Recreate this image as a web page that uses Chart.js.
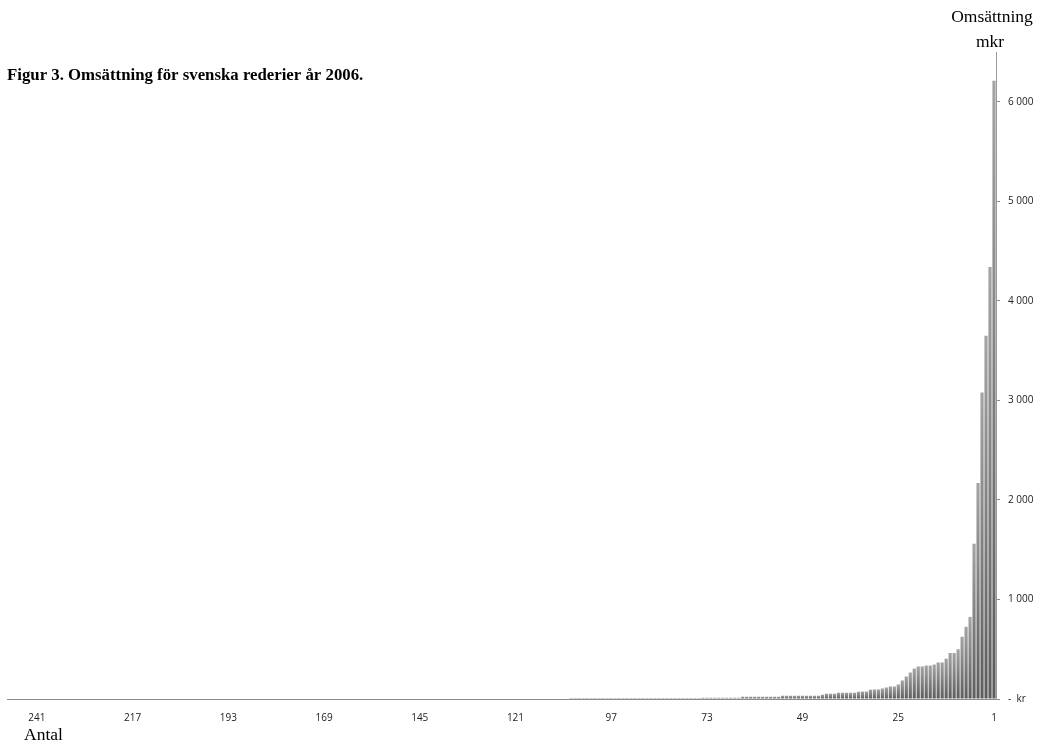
<!DOCTYPE html>
<html>
<head>
<meta charset="utf-8">
<script src="https://cdn.jsdelivr.net/npm/chart.js@4.4.1/dist/chart.umd.min.js"></script>
<style>
  html, body { margin: 0; padding: 0; background: #fff; }
  #wrap { position: relative; width: 1037px; height: 742px; }
</style>
</head>
<body>
<div id="wrap"><canvas id="chart"></canvas></div>
<script>
// Omsättning (mkr) per rederi, rangordnat från störst (1) till minst
const revenue = [
  6210, 4340, 3650, 3080, 2170, 1560, 825, 725, 625, 500,
  462, 462, 405, 367, 367, 346, 336, 336, 327, 327,
  306, 266, 226, 186, 146, 126, 126, 116, 106, 96,
  96, 94, 75, 75, 73, 63, 63, 63, 63, 63,
  53, 53, 53, 43, 33, 33, 33, 33, 33, 33,
  33, 33, 33, 33, 23, 23, 23, 23, 23, 23,
  23, 23, 23, 23, 13, 13, 13, 13, 13, 13,
  13, 13, 13, 13, 9, 9, 9, 9, 9, 9,
  9, 9, 9, 9, 9, 9, 9, 9, 9, 9,
  9, 9, 9, 9, 9, 9, 9, 9, 9, 9,
  9, 9, 9, 9, 9, 9, 9, 0, 0, 0,
  0, 0, 0, 0, 0, 0, 0, 0, 0, 0,
  0, 0, 0, 0, 0, 0, 0, 0, 0, 0,
  0, 0, 0, 0, 0, 0, 0, 0, 0, 0,
  0, 0, 0, 0, 0, 0, 0, 0, 0, 0,
  0, 0, 0, 0, 0, 0, 0, 0, 0, 0,
  0, 0, 0, 0, 0, 0, 0, 0, 0, 0,
  0, 0, 0, 0, 0, 0, 0, 0, 0, 0,
  0, 0, 0, 0, 0, 0, 0, 0, 0, 0,
  0, 0, 0, 0, 0, 0, 0, 0, 0, 0,
  0, 0, 0, 0, 0, 0, 0, 0, 0, 0,
  0, 0, 0, 0, 0, 0, 0, 0, 0, 0,
  0, 0, 0, 0, 0, 0, 0, 0, 0, 0,
  0, 0, 0, 0, 0, 0, 0, 0, 0, 0,
  0, 0, 0, 0, 0, 0, 0, 0
];

// Rangnummer för varje rederi (kategorier)
const ranks = revenue.map((_, i) => String(i + 1));

// Var 24:e rang får en etikett: 1, 25, 49, ..., 241
const rankLabelStep = 24;

// Y-axelns skala och markeringar i mkr
const yMax = 6500;
const yTickValues = [0, 1000, 2000, 3000, 4000, 5000, 6000];

const titleText = 'Figur 3. Omsättning för svenska rederier år 2006.';
const yTitleLines = ['Omsättning', 'mkr'];
const xTitleText = 'Antal';

function fmtMkr(v) {
  if (v === 0) return '-  kr';
  return String(v).replace(/\B(?=(\d{3})+(?!\d))/g, ' ');
}

// Grå toning per stapel: ljus upptill, mörkare mot basen
function barFill(c) {
  const chart = c.chart;
  const y = chart.scales && chart.scales.y;
  const v = c.raw;
  if (!y || typeof v !== 'number' || v <= 0) return '#7a7a7a';
  const top = y.getPixelForValue(v);
  const base = y.getPixelForValue(0);
  if (!(base - top > 1)) return '#7a7a7a';
  const g = chart.ctx.createLinearGradient(0, top, 0, base);
  g.addColorStop(0, '#a4a4a4');
  g.addColorStop(1, '#5c5c5c');
  return g;
}

const captions = {
  id: 'captions',
  afterDraw(chart) {
    const ctx = chart.ctx;
    ctx.save();
    ctx.fillStyle = '#000';
    ctx.textBaseline = 'alphabetic';

    ctx.font = 'bold 16.8px "Liberation Serif", "Times New Roman", serif';
    ctx.textAlign = 'left';
    ctx.fillText(titleText, 7, 80);

    ctx.font = '17.5px "Liberation Serif", "Times New Roman", serif';
    ctx.textAlign = 'center';
    ctx.fillText(yTitleLines[0], 992, 22);
    ctx.fillText(yTitleLines[1], 990, 47);

    ctx.textAlign = 'left';
    ctx.fillText(xTitleText, 24, 740);
    ctx.restore();
  }
};

new Chart(document.getElementById('chart'), {
  type: 'bar',
  data: {
    labels: ranks,
    datasets: [{
      data: revenue,
      backgroundColor: barFill,
      borderWidth: 0,
      categoryPercentage: 1,
      barPercentage: 0.8
    }]
  },
  options: {
    responsive: true,
    maintainAspectRatio: false,
    animation: false,
    events: [],
    layout: { padding: { left: 7, top: 52, right: 0, bottom: 0 } },
    plugins: { legend: { display: false }, tooltip: { enabled: false } },
    scales: {
      x: {
        reverse: true,
        grid: { display: false, drawTicks: false },
        border: { display: true, color: '#8c8c8c', width: 1 },
        ticks: {
          autoSkip: false,
          maxRotation: 0,
          minRotation: 0,
          padding: 13,
          color: '#222',
          font: { family: '"Open Sans", sans-serif', size: 10 },
          callback: (val, idx) => (idx % rankLabelStep === 0 ? ranks[idx] : '')
        },
        afterFit: (s) => { s.height = 43; }
      },
      y: {
        type: 'linear',
        position: 'right',
        min: 0,
        max: yMax,
        grid: { drawOnChartArea: false, drawTicks: true, tickLength: 4, color: '#8c8c8c' },
        border: { display: true, color: '#9a9a9a', width: 1 },
        ticks: {
          autoSkip: false,
          padding: 8,
          color: '#222',
          font: { family: '"Open Sans", sans-serif', size: 10 },
          callback: (v) => fmtMkr(v)
        },
        afterBuildTicks: (s) => { s.ticks = yTickValues.map(v => ({ value: v })); },
        afterFit: (s) => { s.width = 41; }
      }
    }
  },
  plugins: [captions]
});
</script>
</body>
</html>
